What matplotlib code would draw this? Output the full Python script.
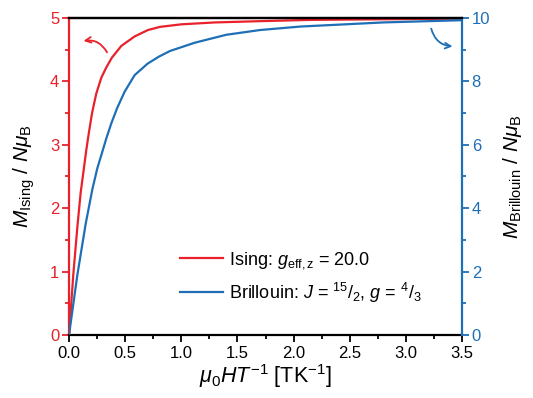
import matplotlib
matplotlib.use("Agg")
import matplotlib.pyplot as plt
from matplotlib.ticker import MultipleLocator, FormatStrFormatter

plt.rcParams["font.family"] = ["Liberation Sans", "DejaVu Sans"]
plt.rcParams["mathtext.fontset"] = "custom"
plt.rcParams["mathtext.rm"] = "Liberation Sans"
plt.rcParams["mathtext.it"] = "Liberation Sans:italic"
plt.rcParams["mathtext.bf"] = "Liberation Sans:bold"

RED = "#e8212b"
BLUE = "#1f6fb6"

# Ising magnetisation (left axis)
ising_x = [0, 0.038, 0.075, 0.104, 0.134, 0.154, 0.175, 0.205, 0.243, 0.288,
           0.332, 0.38, 0.466, 0.585, 0.703, 0.81, 1.0, 1.3, 1.7, 2.15, 2.8, 3.5]
ising_m = [0, 0.95, 1.72, 2.25, 2.65, 2.92, 3.17, 3.50, 3.81, 4.06,
           4.22, 4.37, 4.56, 4.71, 4.81, 4.86, 4.90, 4.93, 4.95, 4.97, 4.98, 4.99]

# Brillouin magnetisation (right axis)
bri_x = [0, 0.074, 0.148, 0.208, 0.252, 0.288, 0.332, 0.377, 0.43, 0.496,
         0.585, 0.70, 0.80, 0.90, 1.12, 1.40, 1.70, 2.06, 2.80, 3.5]
bri_m = [0, 1.89, 3.50, 4.60, 5.26, 5.68, 6.20, 6.68, 7.17, 7.68,
         8.20, 8.56, 8.78, 8.96, 9.22, 9.47, 9.62, 9.73, 9.86, 9.93]

ising_label = r"Ising: $g_{\rm eff,z}$ = 20.0"
bri_label = r"Brillouin: $J$ = $^{15}/_{2}$, $g$ = $^{4}/_{3}$"

fig = plt.figure(figsize=(5.33, 3.98), dpi=100)
ax = fig.add_axes([0.1295, 0.1583, 0.7373, 0.7965])
ax2 = ax.twinx()

l1, = ax.plot(ising_x, ising_m, color=RED, lw=1.6, label=ising_label)
l2, = ax2.plot(bri_x, bri_m, color=BLUE, lw=1.6, label=bri_label)

ax.set_xlim(0, 3.5)
ax.set_ylim(0, 5)
ax2.set_ylim(0, 10)

ax.xaxis.set_major_locator(MultipleLocator(0.5))
ax.xaxis.set_minor_locator(MultipleLocator(0.25))
ax.xaxis.set_major_formatter(FormatStrFormatter("%.1f"))
ax.yaxis.set_major_locator(MultipleLocator(1))
ax.yaxis.set_minor_locator(MultipleLocator(0.5))
ax2.yaxis.set_major_locator(MultipleLocator(2))
ax2.yaxis.set_minor_locator(MultipleLocator(1))

ax.tick_params(axis="x", which="major", direction="out", length=5, width=1.3,
               labelsize=12, colors="black", pad=3)
ax.tick_params(axis="x", which="minor", direction="out", length=3, width=1.3)
ax.tick_params(axis="y", which="major", direction="out", length=5, width=1.3,
               labelsize=12, colors=RED, pad=2)
ax.tick_params(axis="y", which="minor", direction="out", length=3, width=1.3, colors=RED)
ax2.tick_params(axis="y", which="major", direction="out", length=5, width=1.3,
                labelsize=12, colors=BLUE, pad=2)
ax2.tick_params(axis="y", which="minor", direction="out", length=3, width=1.3, colors=BLUE)

for s in ["top", "bottom"]:
    ax.spines[s].set_color("black")
    ax.spines[s].set_linewidth(1.6)
ax.spines["left"].set_color(RED)
ax.spines["left"].set_linewidth(1.6)
ax.spines["right"].set_visible(False)
ax2.spines["right"].set_color(BLUE)
ax2.spines["right"].set_linewidth(1.6)
for s in ["top", "bottom", "left"]:
    ax2.spines[s].set_visible(False)
ax2.plot([0, 1], [1, 1], transform=ax2.transAxes, color="black", lw=1.6,
         clip_on=False, zorder=5)

ax.set_xlabel(r"$\mu_0HT^{-1}$ [TK$^{-1}$]", fontsize=15.5, labelpad=1)
ax.set_ylabel(r"$M_{\rm Ising}$ / $N\mu_{\rm B}$", fontsize=15, labelpad=9)
ax2.set_ylabel(r"$M_{\rm Brillouin}$ / $N\mu_{\rm B}$", fontsize=15, rotation=90,
               labelpad=8)

# curved arrows pointing to each curve's axis
ax.annotate("", xy=(0.105, 4.63), xytext=(0.35, 4.42),
            arrowprops=dict(arrowstyle="->", color=RED, lw=1.3,
                            connectionstyle="arc3,rad=0.4"))
ax2.annotate("", xy=(3.44, 9.1), xytext=(3.22, 9.75),
             arrowprops=dict(arrowstyle="->", color=BLUE, lw=1.3,
                             connectionstyle="arc3,rad=0.4"))

ax.legend([l1, l2], [ising_label, bri_label], loc="upper left",
          bbox_to_anchor=(0.24, 0.32), frameon=False, fontsize=13,
          handlelength=2.4, handletextpad=0.35, labelspacing=0.55)

fig.savefig("out.png", dpi=100)
